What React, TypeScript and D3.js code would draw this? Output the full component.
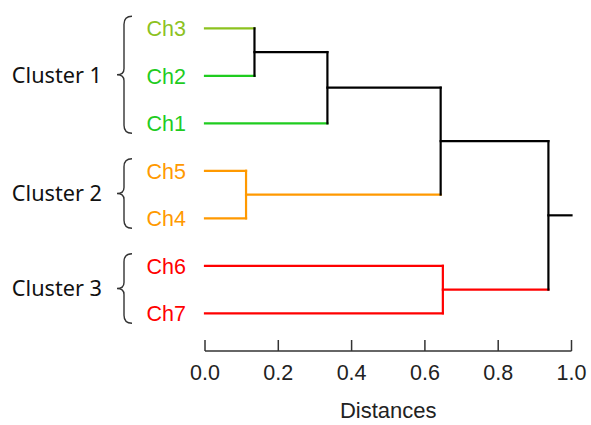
import React from "react";
import * as d3 from "d3";

const leaves = ["Ch3", "Ch2", "Ch1", "Ch5", "Ch4", "Ch6", "Ch7"];
const leafColors = ["#8cc21f", "#1fcc1f", "#1fcc1f", "#ff9900", "#ff9900", "#ff0000", "#ff0000"];
// merges: [id, childA, childB, distance, color]
const mergeIds = ["m1", "m2", "m3", "m4", "m5", "m6"];
const mergeA = ["Ch3", "m1", "Ch5", "m2", "Ch6", "m4"];
const mergeB = ["Ch2", "Ch1", "Ch4", "m3", "Ch7", "m5"];
const mergeDist = [0.135, 0.334, 0.112, 0.643, 0.649, 0.937];
const mergeColors = ["#000000", "#000000", "#ff9900", "#000000", "#ff0000", "#000000"];
const rootEnd = 1.0;

const clusterNames = ["Cluster 1", "Cluster 2", "Cluster 3"];
const clusterFirst = ["Ch3", "Ch5", "Ch6"];
const clusterLast = ["Ch1", "Ch4", "Ch7"];

const tickValues = [0, 0.2, 0.4, 0.6, 0.8, 1.0];
const axisTitle = "Distances";

export default function App() {
  const W = 591, H = 425;
  const x = d3.scaleLinear().domain([0, 1]).range([205, 571.5]);
  const y = d3.scalePoint<string>().domain(leaves).range([28.3, 313.3]);

  const pos: Record<string, { x: number; y: number; color: string }> = {};
  leaves.forEach((l, i) => (pos[l] = { x: x(0), y: y(l)!, color: leafColors[i] }));
  const segs: { x1: number; y1: number; x2: number; y2: number; c: string }[] = [];
  mergeIds.forEach((id, i) => {
    const a = pos[mergeA[i]], b = pos[mergeB[i]];
    const mx = x(mergeDist[i]);
    segs.push({ x1: a.x, y1: a.y, x2: mx, y2: a.y, c: a.color });
    segs.push({ x1: b.x, y1: b.y, x2: mx, y2: b.y, c: b.color });
    segs.push({ x1: mx, y1: a.y, x2: mx, y2: b.y, c: mergeColors[i] });
    pos[id] = { x: mx, y: (a.y + b.y) / 2, color: mergeColors[i] };
  });
  const root = pos[mergeIds[mergeIds.length - 1]];
  segs.push({ x1: root.x, y1: root.y, x2: x(rootEnd), y2: root.y, c: "#000000" });

  const axisY = 351;

  const bracePath = (y0: number, y1: number) => {
    const ym = (y0 + y1) / 2;
    const xs = 124, xp = 117, xt = 132;
    return `M${xt},${y0} Q${xs},${y0} ${xs},${y0 + 8} L${xs},${ym - 6} Q${xs},${ym} ${xp},${ym} Q${xs},${ym} ${xs},${ym + 6} L${xs},${y1 - 8} Q${xs},${y1} ${xt},${y1}`;
  };

  return (
    <svg width={W} height={H} style={{ position: "absolute", left: 0, top: 0, background: "#fff" }}>
      {segs.map((s, i) => (
        <line key={i} x1={s.x1} y1={s.y1} x2={s.x2} y2={s.y2} stroke={s.c} strokeWidth={2.2} strokeLinecap="square" />
      ))}
      {leaves.map((l, i) => (
        <text key={l} x={186} y={y(l)!} dy="0.36em" textAnchor="end" fill={leafColors[i]}
          style={{ fontFamily: "'Liberation Sans', Arial, sans-serif", fontSize: 21.5 }}>{l}</text>
      ))}
      {clusterNames.map((n, i) => {
        const y0 = y(clusterFirst[i])! - 12;
        const y1 = y(clusterLast[i])! + 10;
        return (
          <g key={n}>
            <path d={bracePath(y0, y1)} fill="none" stroke="#333" strokeWidth={1.4} />
            <text x={102} y={(y0 + y1) / 2} dy="0.36em" textAnchor="end" fill="#111"
              style={{ fontFamily: "'Noto Sans', sans-serif", fontSize: 21.7 }}>{n}</text>
          </g>
        );
      })}
      <line x1={x(0)} x2={x(1)} y1={axisY} y2={axisY} stroke="#333" strokeWidth={1.5} />
      {tickValues.map((t) => (
        <g key={t}>
          <line x1={x(t)} x2={x(t)} y1={axisY} y2={axisY - 11} stroke="#333" strokeWidth={1.5} />
          <text x={x(t)} y={379.5} textAnchor="middle" fill="#222"
            style={{ fontFamily: "'Liberation Sans', Arial, sans-serif", fontSize: 21.5 }}>{d3.format(".1f")(t)}</text>
        </g>
      ))}
      <text x={x(0.5)} y={418} textAnchor="middle" fill="#222"
        style={{ fontFamily: "'Liberation Sans', Arial, sans-serif", fontSize: 22 }}>{axisTitle}</text>
    </svg>
  );
}
